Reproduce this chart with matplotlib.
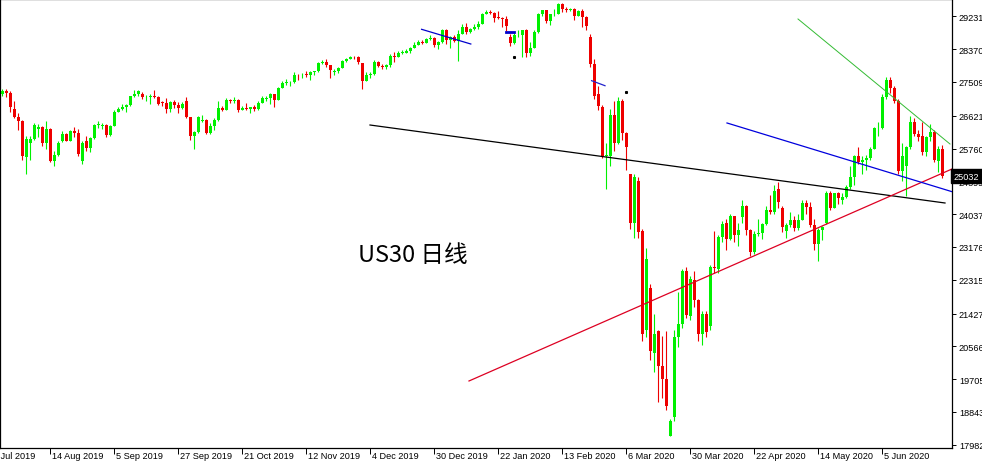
import matplotlib.pyplot as plt
import matplotlib.transforms as mtransforms
import numpy as np

# US30 daily candles, 29 Jul 2019 - 26 Jun 2020
opens = [
    27200, 27280, 27230, 26800, 26590, 26480, 25530, 25900, 26020, 26280,
    26330, 25900, 26280, 25440, 25580, 25950, 26150, 25970, 26220, 26180,
    25420, 25950, 25770, 26040, 26370, 26350, 26380, 26120, 26360, 26730,
    26800, 26840, 26900, 27140, 27190, 27200, 27100, 27120, 27150, 27100,
    26980, 26950, 26810, 26970, 26890, 26820, 27000, 26580, 26080, 26200,
    26480, 26520, 26160, 26350, 26500, 26830, 26780, 27030, 27000, 27030,
    26770, 26830, 26790, 26840, 26800, 26960, 27060, 27080, 27190, 27040,
    27350, 27470, 27500, 27510, 27700, 27680, 27710, 27690, 27780, 27790,
    28010, 28040, 27940, 27760, 27790, 27880, 28070, 28120, 28170, 28160,
    28000, 27540, 27700, 27720, 28040, 27920, 27900, 27960, 28200, 28160,
    28270, 28280, 28310, 28400, 28480, 28560, 28530, 28640, 28670, 28470,
    28550, 28880, 28620, 28700, 28590, 28770, 28960, 28830, 28910, 28950,
    29040, 29300, 29350, 29330, 29200, 29190, 29160, 28700, 28540, 28730,
    28740, 28860, 28260, 28410, 28820, 29300, 29390, 29110, 29280, 29300,
    29560, 29430, 29410, 29420, 29240, 29360, 29210, 28700, 27980, 27190,
    26850, 25560, 25560, 26650, 25900, 27000, 26180, 25080, 23800, 24900,
    23600, 21000, 22100, 20400, 20960, 20040, 19700, 18210, 18700, 20800,
    21150, 22540, 21360, 22300, 21780, 20900, 21420, 21100, 22650, 22600,
    23430, 23800, 23380, 23980, 23480, 23950, 24250, 23620, 23050, 23520,
    23540, 23780, 24150, 24100, 24700, 24200, 23600, 23760, 23880, 23660,
    23890, 24330, 24220, 23760, 23250, 23620, 23800, 24600, 24210, 24580,
    24420, 24480, 24750, 25000, 25550, 25400, 25450, 25500, 25760, 26290,
    26300, 27120, 27560, 27350, 27000, 25170, 25300, 25790, 26450, 26150,
    26100, 25680, 26050, 26200, 25420, 25760,
]
highs = [
    27320, 27330, 27260, 27000, 26700, 26500, 26080, 26080, 26420, 26400,
    26350, 26470, 26300, 25700, 25950, 26230, 26170, 26250, 26330, 26260,
    25950, 26100, 26050, 26400, 26470, 26430, 26400, 26380, 26780, 26860,
    26920, 26920, 27150, 27300, 27300, 27250, 27160, 27180, 27300, 27150,
    27010, 27080, 27000, 27030, 26970, 26980, 27100, 26600, 26230, 26620,
    26640, 26540, 26420, 26560, 27000, 26880, 27080, 27060, 27100, 27060,
    26880, 26950, 26860, 26900, 27000, 27130, 27140, 27230, 27200, 27370,
    27520, 27580, 27540, 27770, 27710, 27730, 27790, 27800, 27800, 28030,
    28090, 28100, 27960, 27850, 27900, 28090, 28140, 28180, 28200, 28200,
    28010, 27760, 27760, 28080, 28060, 27980, 27990, 28250, 28300, 28330,
    28340, 28360, 28420, 28560, 28600, 28600, 28660, 28730, 28700, 28580,
    28900, 28900, 28720, 28730, 28880, 29020, 29050, 28930, 29020, 29110,
    29320, 29400, 29390, 29350, 29380, 29210, 29250, 28780, 28790, 28880,
    28880, 28900, 28550, 28870, 29320, 29410, 29400, 29300, 29420, 29580,
    29580, 29470, 29450, 29440, 29410, 29420, 29230, 28760, 28110, 27400,
    26900, 25900, 26800, 27000, 27110, 27050, 26200, 25100, 25100, 25000,
    23650, 23150, 22200, 21420, 21000, 20830, 20960, 18650, 21000, 22000,
    22600, 22640, 22400, 22550, 21800, 21500, 21500, 22700, 23600, 23480,
    23850, 23900, 24050, 23990, 23800, 24400, 24280, 23650, 23600, 23900,
    23800, 24250, 24550, 24800, 24880, 24250, 23800, 24100, 24000, 24050,
    24400, 24400, 24350, 23900, 23660, 23720, 24650, 24650, 24600, 24620,
    24600, 24800, 25300, 25600, 25800, 25550, 25580, 25800, 26320, 26450,
    27200, 27640, 27650, 27400, 27050, 25900, 25820, 26620, 26550, 26250,
    26450, 26100, 26400, 26250, 25820, 25850,
]
lows = [
    27150, 27120, 26720, 26560, 26250, 25450, 25090, 25450, 25990, 26050,
    25820, 25760, 25400, 25300, 25550, 25930, 25950, 25960, 26050, 25560,
    25340, 25700, 25680, 26000, 26300, 26280, 26050, 26100, 26340, 26710,
    26760, 26720, 26880, 27110, 27150, 27060, 27020, 26920, 27080, 26900,
    26870, 26690, 26730, 26830, 26690, 26800, 26550, 25980, 25740, 26180,
    26450, 26140, 26140, 26250, 26480, 26740, 26770, 26950, 26960, 26720,
    26760, 26760, 26690, 26740, 26780, 26950, 27000, 26940, 26850, 27030,
    27340, 27440, 27400, 27490, 27550, 27620, 27630, 27560, 27700, 27780,
    27990, 27900, 27620, 27690, 27740, 27870, 28040, 28100, 28120, 27980,
    27320, 27520, 27600, 27700, 27890, 27840, 27860, 27900, 28030, 28150,
    28250, 28260, 28280, 28390, 28470, 28500, 28520, 28620, 28420, 28380,
    28530, 28500, 28400, 28550, 28060, 28760, 28780, 28800, 28880, 28900,
    29030, 29280, 29300, 29080, 29160, 28950, 28850, 28440, 28500, 28700,
    28170, 28170, 28200, 28400, 28800, 29250, 29050, 29000, 29250, 29290,
    29350, 29350, 29370, 29130, 29230, 28950, 28880, 27890, 27050, 26780,
    25500, 24700, 25300, 25700, 25880, 25990, 25200, 23650, 23400, 23400,
    20700, 20800, 20200, 19900, 19100, 19200, 18900, 18200, 18600, 20560,
    21050, 21300, 21250, 21600, 20700, 20600, 20800, 21000, 22500, 22500,
    23300, 23100, 23350, 23300, 23200, 23800, 23500, 22950, 23000, 23450,
    23380, 23760, 24050, 24050, 24200, 23580, 23400, 23700, 23600, 23620,
    23880, 24050, 23700, 23100, 22800, 23350, 23780, 24150, 24200, 24300,
    24300, 24450, 24700, 24800, 25350, 25100, 25200, 25450, 25750, 26100,
    26280, 27050, 27220, 26950, 25100, 24900, 24500, 25750, 26100, 25950,
    25600, 25560, 25950, 25400, 25150, 24980,
]
closes = [
    27280, 27230, 26850, 26590, 26480, 25550, 26010, 26020, 26370, 26330,
    25900, 26280, 25440, 25580, 25900, 26150, 25970, 26210, 26180, 25610,
    25900, 25770, 26040, 26370, 26400, 26380, 26120, 26360, 26730, 26800,
    26840, 26900, 27140, 27190, 27260, 27100, 27120, 27150, 27100, 26940,
    26950, 26810, 26970, 26890, 26820, 26920, 26580, 26080, 26200, 26580,
    26520, 26160, 26350, 26500, 26830, 26780, 27030, 27000, 27030, 26770,
    26830, 26790, 26840, 26800, 26960, 27090, 27080, 27190, 27040, 27350,
    27470, 27500, 27510, 27680, 27680, 27700, 27690, 27780, 27790, 28010,
    28040, 27940, 27820, 27790, 27880, 28070, 28120, 28170, 28160, 28020,
    27540, 27700, 27720, 28040, 27920, 27900, 27960, 28200, 28160, 28270,
    28300, 28310, 28400, 28480, 28560, 28530, 28640, 28670, 28470, 28550,
    28880, 28620, 28700, 28590, 28770, 28960, 28830, 28910, 28950, 29040,
    29300, 29350, 29330, 29200, 29190, 29160, 28990, 28540, 28730, 28740,
    28860, 28260, 28410, 28820, 29300, 29390, 29110, 29280, 29300, 29560,
    29430, 29410, 29420, 29240, 29360, 29210, 28990, 27980, 27150, 26870,
    25560, 25600, 26650, 25900, 27000, 26180, 25800, 23800, 25020, 23560,
    20900, 22860, 20440, 20900, 20040, 19700, 19000, 18600, 20800, 21150,
    22540, 21400, 22330, 21780, 20880, 21420, 20950, 22650, 22620, 23430,
    23770, 23380, 23980, 23480, 23620, 24250, 23620, 23050, 23520, 23540,
    23780, 24150, 24100, 24640, 24350, 23700, 23760, 23880, 23660, 23890,
    24330, 24220, 23760, 23250, 23620, 23700, 24600, 24210, 24580, 24470,
    24480, 24750, 25000, 25550, 25400, 25450, 25500, 25760, 26290, 26300,
    27120, 27560, 27350, 27000, 25170, 25560, 25790, 26450, 26150, 26060,
    25680, 26050, 26200, 25460, 25760, 25032,
]

date_ticks = [-4, 12, 28, 44, 60, 76, 92, 108, 124, 140, 156, 172, 188, 204, 220]
date_labels = ["23 Jul 2019", "14 Aug 2019", "5 Sep 2019", "27 Sep 2019", "21 Oct 2019",
               "12 Nov 2019", "4 Dec 2019", "30 Dec 2019", "22 Jan 2020", "13 Feb 2020",
               "6 Mar 2020", "30 Mar 2020", "22 Apr 2020", "14 May 2020", "5 Jun 2020"]
price_ticks = [29231, 28370, 27509, 26621, 25760, 24899, 24037, 23176,
               22315, 21427, 20566, 19705, 18843, 17982]
last_price = 25032

# trend lines drawn on the chart: (bar, price) end points
black_x, black_y = [92, 235.75], [26377, 24329]
red_x, red_y = [116.75, 237.5], [19655, 25222]
blue_x, blue_y = [181.25, 237.5], [26430, 24626]
green_x, green_y = [199, 237], [29161, 25878]
short_blue_x, short_blue_y = [104.9, 117.2], [28890, 28504]
flat_blue_x, flat_blue_y = [126, 128], [28818, 28818]
crash_blue_x, crash_blue_y = [147.4, 150.75], [27541, 27409]
dot_x, dot_y = [128, 156], [28161, 27244]

assert len(opens) == len(highs) == len(lows) == len(closes)

fig = plt.figure(figsize=(9.82, 4.64), dpi=100)
ax = fig.add_axes([0.0, 15 / 464, 952 / 982, 449 / 464])

o = np.array(opens)
h = np.array(highs)
l = np.array(lows)
c = np.array(closes)
x = np.arange(len(c))
up = c >= o
bull, bear = "#00f000", "#ee0000"
cols = np.where(up, bull, bear)

ax.vlines(x, l, h, colors=cols, linewidth=0.8, zorder=2)
body = np.maximum(np.abs(c - o), 12)
ax.bar(x, body, bottom=np.minimum(o, c), width=0.75, color=cols, linewidth=0, zorder=3)

ax.plot(black_x, black_y, color="black", lw=0.9, zorder=4)
ax.plot(red_x, red_y, color="#dd0022", lw=0.9, zorder=4)
ax.plot(blue_x, blue_y, color="#0000dd", lw=0.9, zorder=4)
ax.plot(green_x, green_y, color="#33bb33", lw=0.7, zorder=4)
ax.plot(short_blue_x, short_blue_y, color="#0000cc", lw=0.9, zorder=4)
ax.plot(flat_blue_x, flat_blue_y, color="#0000cc", lw=2, zorder=4)
ax.plot(crash_blue_x, crash_blue_y, color="#2222cc", lw=0.9, zorder=4)
ax.plot(dot_x, dot_y, ls="none", marker="s", ms=1.2, color="black", zorder=4)

ax.set_xlim(-0.5, 237.5)
ax.set_ylim(17895, 29686)

for s in ax.spines.values():
    s.set_color("black")
    s.set_linewidth(0.9)

label_font = "Liberation Sans"
label_size = 6.6

# price axis on the right
ax.yaxis.tick_right()
ax.set_yticks(price_ticks)
ax.set_yticklabels([str(p) for p in price_ticks])
ax.tick_params(axis="y", direction="out", length=3, width=0.7, pad=2,
               labelsize=label_size, colors="black")
for lab in ax.get_yticklabels():
    lab.set_fontfamily(label_font)

# date axis: tick at the bar, label starts just right of it
ax.set_xticks([t for t in date_ticks if t >= 0])
ax.set_xticklabels([])
ax.tick_params(axis="x", direction="out", length=4, width=0.7)
trans = mtransforms.blended_transform_factory(ax.transData, ax.transAxes)
offset = mtransforms.ScaledTranslation(2 / 100, -3 / 100, fig.dpi_scale_trans)
for t, lab in zip(date_ticks, date_labels):
    ax.text(t, 0, lab, transform=trans + offset, ha="left", va="top",
            fontsize=label_size, family=label_font, clip_on=False)

# current price box
ytrans = mtransforms.blended_transform_factory(ax.transAxes, ax.transData)
ax.text(1.002, last_price, str(last_price), transform=ytrans, ha="left", va="center",
        fontsize=label_size, family=label_font, color="white", zorder=10, clip_on=False,
        bbox=dict(boxstyle="square,pad=0.3", facecolor="black", edgecolor="black"))

ax.text(358 / 952, 0.43, "US30 日线", transform=ax.transAxes, ha="left", va="center",
        fontsize=17, family=["Noto Sans CJK SC", "DejaVu Sans"], color="black")

fig.savefig("out.png", dpi=100)
